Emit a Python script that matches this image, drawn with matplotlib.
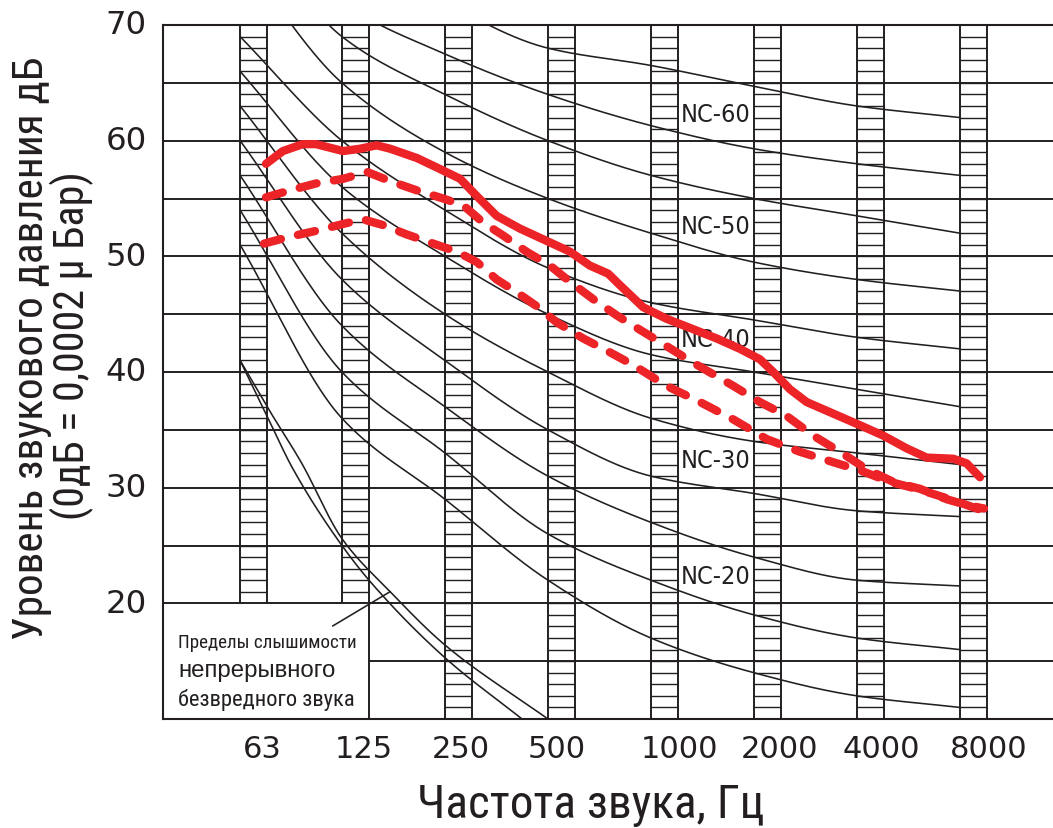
import os
import numpy as np
import matplotlib
matplotlib.use("Agg")
import matplotlib.pyplot as plt
from matplotlib import font_manager as fm
from matplotlib.ticker import NullLocator
from matplotlib.transforms import blended_transform_factory

# Octave-band frequencies (Hz) and their axis labels
band_freqs = [63, 125, 250, 500, 1000, 2000, 4000, 8000]
band_labels = ["63", "125", "250", "500", "1000", "2000", "4000", "8000"]

# Noise-criterion curves, sound pressure level (dB) per octave band
nc15 = [51, 36, 29, 22, 17, 14, 12, 11]
nc20 = [54, 40, 33, 26, 22, 19, 17, 16]
nc25 = [57, 44, 37, 31, 27, 24, 22, 21.5]
nc30 = [60, 48, 41, 35, 31, 29.5, 28, 27.5]
nc35 = [63, 52, 45, 40, 36, 34, 33, 32]
nc40 = [66, 56, 50, 45, 41.5, 40, 38.5, 37]
nc45 = [69, 60, 54, 49, 46, 44.5, 43, 42]
nc50 = [76, 65, 59, 55, 52, 49.5, 48, 47]
nc55 = [80, 69, 64, 60, 57, 55, 53.5, 52]
nc60 = [83, 72, 67.5, 64, 61.3, 59.3, 58, 57]
nc65 = [87, 78, 72, 68, 66.5, 64.7, 63, 62]
nc_curves = {"NC-15": nc15, "NC-20": nc20, "NC-25": nc25, "NC-30": nc30,
             "NC-35": nc35, "NC-40": nc40, "NC-45": nc45, "NC-50": nc50,
             "NC-55": nc55, "NC-60": nc60, "NC-65": nc65}
labelled_nc = ["NC-20", "NC-30", "NC-40", "NC-50", "NC-60"]

# Limits of audibility of continuous harmless sound
audible_lo_freq = [63, 75.5, 90, 125, 152, 250, 420]
audible_lo_db = [41.0, 36.2, 31.6, 25.0, 21.8, 15.3, 10.0]
audible_hi_freq = [63, 77, 95, 125, 173, 250, 500]
audible_hi_db = [41.0, 36.6, 32.2, 25.6, 21.0, 16.4, 10.0]

# Measured spectra: maximum (solid), upper and lower (dashed)
spec_max_freq = [75, 84, 96, 105, 115, 126, 141, 158, 173, 207, 236, 277, 310,
                 354, 414, 507, 580, 663, 750, 812, 949, 1111, 1329, 1556, 1820,
                 2082, 2277, 2549, 2852, 3411, 4081, 4773, 5587, 6394, 7649,
                 8369, 9151]
spec_max_db = [58.0, 59.1, 59.7, 59.7, 59.4, 59.1, 59.3, 59.6, 59.3, 58.5, 57.7,
               56.7, 55.2, 53.5, 52.4, 51.2, 50.4, 49.2, 48.5, 47.5, 45.6, 44.6,
               43.7, 42.9, 42.0, 41.1, 40.0, 38.5, 37.4, 36.4, 35.4, 34.5, 33.4,
               32.6, 32.5, 32.1, 30.9]
spec_upper_freq = [75, 88, 105, 126, 148, 173, 207, 247, 283, 324, 370, 433, 507,
                   580, 678, 794, 888, 1062, 1329, 1740, 2082, 2492, 2981, 3567,
                   4268, 5106, 6113, 7314, 8369, 9400]
spec_upper_db = [55.1, 55.7, 56.3, 56.7, 57.3, 56.5, 55.7, 55.0, 54.4, 52.9, 51.8,
                 50.4, 49.2, 47.8, 46.3, 44.9, 44.0, 42.6, 40.8, 38.8, 37.4, 36.2,
                 34.5, 33.1, 31.6, 30.5, 29.9, 29.0, 28.5, 28.2]
spec_lower_freq = [74, 88, 105, 126, 144, 165, 193, 226, 271, 310, 354, 405, 463,
                   530, 634, 759, 888, 1111, 1391, 1740, 2178, 2726, 3411, 4081,
                   4994, 5977, 7481, 9573]
spec_lower_db = [51.1, 51.7, 52.2, 52.8, 53.2, 52.7, 51.9, 51.2, 50.4, 49.5, 48.0,
                 46.9, 45.7, 44.3, 42.9, 41.7, 40.6, 38.8, 37.4, 35.9, 34.2, 33.1,
                 32.2, 31.5, 30.5, 29.9, 29.0, 27.9]

y_ticks = [20, 30, 40, 50, 60, 70]

INK = "#231f20"
RED = "#ec2327"


def font_file(candidates):
    """First installed font file whose name starts with one of the stems."""
    files = {}
    for p in fm.findSystemFonts():
        files.setdefault(os.path.basename(p).lower(), p)
    for stem in candidates:
        for name in sorted(files):
            if name.startswith(stem):
                return files[name]
    return None


narrow_path = font_file(["liberationsansnarrow-regular", "notosans-condensed.",
                         "notosans-condensed-regular", "robotocondensed-regular",
                         "dejavusanscondensed."])
tech_path = font_file(["notosans-condensedlight", "dejavusanscondensed.",
                       "notosans-condensed.", "liberationsansnarrow-regular"])
regular_path = font_file(["liberationsans-regular", "arimo-regular"])


def props(path, fallback, size):
    if path:
        return fm.FontProperties(fname=path, size=size)
    return fm.FontProperties(family=fallback, size=size)


def fit_width(fig, txt, width_px):
    """Scale a text's font size so that its unrotated length is width_px."""
    rot = txt.get_rotation()
    txt.set_rotation(0)
    r = fig.canvas.get_renderer()
    w = txt.get_window_extent(r).width
    txt.set_fontsize(txt.get_fontsize() * width_px / w)
    txt.set_rotation(rot)


def pchip(x, y, xn):
    """Monotone cubic (Fritsch-Carlson) interpolation."""
    x = np.asarray(x, float)
    y = np.asarray(y, float)
    h = np.diff(x)
    d = np.diff(y) / h
    m = np.zeros_like(y)
    m[0], m[-1] = d[0], d[-1]
    for k in range(1, len(x) - 1):
        if d[k - 1] * d[k] > 0:
            w1 = 2 * h[k] + h[k - 1]
            w2 = h[k] + 2 * h[k - 1]
            m[k] = (w1 + w2) / (w1 / d[k - 1] + w2 / d[k])
    i = np.clip(np.searchsorted(x, xn) - 1, 0, len(h) - 1)
    t = (xn - x[i]) / h[i]
    return ((2 * t**3 - 3 * t**2 + 1) * y[i] + (t**3 - 2 * t**2 + t) * h[i] * m[i]
            + (-2 * t**3 + 3 * t**2) * y[i + 1] + (t**3 - t**2) * h[i] * m[i + 1])


W, H = 1053, 829
fig = plt.figure(figsize=(W / 100, H / 100), dpi=100)
ax = fig.add_axes([163 / W, 1 - 720 / H, 1 - 163 / W, (720 - 26) / H])
ax.set_xscale("log", base=2)
ax.set_xlim(37.5, 14960)
ax.set_ylim(10, 70)
ax.xaxis.set_major_locator(NullLocator())
ax.xaxis.set_minor_locator(NullLocator())
ax.yaxis.set_major_locator(NullLocator())
for side in ("left", "bottom", "top"):
    ax.spines[side].set_linewidth(1.5)
    ax.spines[side].set_color(INK)
ax.spines["right"].set_visible(False)

band_w = 2 ** (27 / 103)   # width of the hatched strip, in octaves
x_lo, x_hi = ax.get_xlim()

# 5 dB grid; the box in the lower-left corner keeps the 15 dB line out
for level in range(15, 70, 5):
    start = band_freqs[1] * band_w if level == 15 else x_lo
    ax.hlines(level, start, x_hi, color=INK, lw=1.4, zorder=1)
ax.vlines(band_freqs[1] * band_w, 10, 20, color=INK, lw=1.4, zorder=1)

# Hatched octave strips
for f in band_freqs:
    floor = 20 if f < 200 else 10
    ax.vlines([f, f * band_w], floor, 70, color=INK, lw=1.4, zorder=2)
    ax.hlines(np.arange(floor + 1, 70), f, f * band_w, color=INK, lw=1.0, zorder=2)

# NC curves
u_nodes = np.log2(band_freqs)
u_fine = np.linspace(u_nodes[0], u_nodes[-1], 400)
nc_texts = []
for name, levels in nc_curves.items():
    ax.plot(2 ** u_fine, pchip(u_nodes, levels, u_fine), color=INK, lw=1.15,
            zorder=3)
    if name in labelled_nc:
        u_lab = np.log2(band_freqs[4]) + 0.29
        y_lab = pchip(u_nodes, levels, np.array([u_lab + 0.36]))[0] + 2.4
        nc_texts.append(ax.text(2 ** u_lab, y_lab, name, color=INK,
                                fontproperties=props(tech_path, "DejaVu Sans", 16),
                                ha="left", va="center", zorder=4))

# Audibility limits
for fr, db in ((audible_lo_freq, audible_lo_db), (audible_hi_freq, audible_hi_db)):
    uf = np.log2(fr)
    uu = np.linspace(uf[0], uf[-1], 300)
    ax.plot(2 ** uu, pchip(uf, db, uu), color=INK, lw=1.15, zorder=3)

# Leader from the caption to the audibility curves
ax.plot([117.6, 172.7], [18.05, 21.0], color=INK, lw=1.15, zorder=3,
        clip_on=False)

# Measured spectra
ax.plot(spec_max_freq, spec_max_db, color=RED, lw=6, solid_capstyle="round",
        solid_joinstyle="round", zorder=6)
for fr, db in ((spec_upper_freq, spec_upper_db), (spec_lower_freq, spec_lower_db)):
    ax.plot(fr, db, color=RED, lw=6, ls=(0, (2.1, 2.1)), dash_capstyle="round",
            solid_joinstyle="round", zorder=6)

# Axis numbers
tx = blended_transform_factory(ax.transData, fig.transFigure)
label_shift = [0.22, 0.21, 0.15, 0.09, 0.28, 0.25, 0.24, 0.28]
x_texts = []
for f, lab, s in zip(band_freqs, band_labels, label_shift):
    x_texts.append(ax.text(f * 2 ** s, 1 - 750 / H, lab, transform=tx,
                           ha="center", va="center", color=INK,
                           fontproperties=fm.FontProperties(family="DejaVu Sans",
                                                            size=21)))
ty = blended_transform_factory(fig.transFigure, ax.transData)
y_texts = []
for v in y_ticks:
    y_texts.append(ax.text(147 / W, v, str(v), transform=ty, ha="right",
                           va="center", color=INK,
                           fontproperties=fm.FontProperties(family="DejaVu Sans",
                                                            size=21)))

x_title = fig.text(591 / W, 1 - 805 / H, "Частота звука, Гц", ha="center",
                   va="center", color=INK,
                   fontproperties=props(narrow_path, "DejaVu Sans", 30))
y_title1 = fig.text(32 / W, 1 - 348 / H, "Уровень звукового давления дБ",
                    rotation=90, ha="center", va="center", color=INK,
                    fontproperties=props(narrow_path, "DejaVu Sans", 28))
y_title2 = fig.text(72 / W, 1 - 346 / H, "(0дБ = 0,0002 μ Бар)", rotation=90,
                    ha="center", va="center", color=INK,
                    fontproperties=props(narrow_path, "DejaVu Sans", 28))

# Caption in the lower-left box
cap1 = fig.text(178 / W, 1 - 643 / H, "Пределы слышимости", ha="left",
                va="center", color=INK,
                fontproperties=props(narrow_path, "DejaVu Sans", 15))
cap2 = fig.text(178 / W, 1 - 671 / H, "непрерывного", ha="left", va="center",
                color=INK, fontproperties=props(regular_path, "DejaVu Sans", 16))
cap3 = fig.text(178 / W, 1 - 700 / H, "безвредного звука", ha="left",
                va="center", color=INK,
                fontproperties=props(narrow_path, "DejaVu Sans", 16))

# Size the lettering to its printed extent
fit_width(fig, x_title, 347)
fit_width(fig, y_title1, 585)
fit_width(fig, y_title2, 348)
fit_width(fig, cap1, 179)
fit_width(fig, cap2, 157)
fit_width(fig, cap3, 177)
fit_width(fig, x_texts[-1], 77)
for t in x_texts[:-1]:
    t.set_fontsize(x_texts[-1].get_fontsize())
fit_width(fig, y_texts[0], 41)
for t in y_texts[1:]:
    t.set_fontsize(y_texts[0].get_fontsize())
fit_width(fig, nc_texts[-1], 70)
for t in nc_texts[:-1]:
    t.set_fontsize(nc_texts[-1].get_fontsize())

fig.savefig("out.png", dpi=100)
